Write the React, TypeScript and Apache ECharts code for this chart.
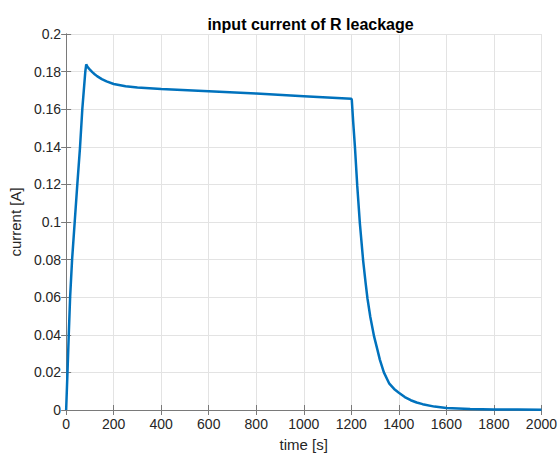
import React, { useEffect, useRef } from "react";
import * as echarts from "echarts";

const titleText = "input current of R leackage";
const xName = "time [s]";
const yName = "current [A]";

const times = [
  0, 5.6, 11, 16.7, 25, 36, 47, 58.5, 68, 80.6, 84.5, 90, 100, 110, 120, 130,
  150, 170, 200, 250, 300, 400, 600, 800, 1000, 1200, 1202, 1208, 1215, 1225,
  1236, 1250, 1260, 1268, 1280, 1296, 1310, 1320, 1337, 1360, 1380, 1400, 1425,
  1450, 1475, 1500, 1550, 1600, 1700, 1800, 1900, 2000,
];
const current = [
  0, 0.02, 0.04, 0.06, 0.08, 0.1, 0.12, 0.14, 0.16, 0.18, 0.1838, 0.1825,
  0.181, 0.1797, 0.1786, 0.1776, 0.176, 0.1748, 0.1734, 0.1722, 0.1716,
  0.1707, 0.1696, 0.1683, 0.1669, 0.1655, 0.165, 0.153, 0.1404, 0.1192,
  0.0993, 0.0792, 0.0678, 0.0593, 0.0495, 0.039, 0.032, 0.0268, 0.02, 0.014,
  0.0112, 0.0092, 0.0069, 0.0052, 0.004, 0.0031, 0.0018, 0.0011, 0.0005,
  0.0003, 0.0002, 0.0001,
];

const FONT = "Liberation Sans, Arial, Helvetica, sans-serif";

export default function App() {
  const ref = useRef<HTMLDivElement>(null);
  useEffect(() => {
    if (!ref.current) return;
    const chart = echarts.init(ref.current, undefined, { renderer: "svg" });
    const axisLineColor = "#7a7a7a";
    const labelColor = "#262626";
    const gridColor = "#e3e3e3";
    chart.setOption({
      animation: false,
      backgroundColor: "#ffffff",
      title: {
        text: titleText,
        left: 305.5,
        textAlign: "center",
        top: 11,
        textStyle: { fontFamily: FONT, fontSize: 16, fontWeight: "bold", color: "#000" },
      },
      grid: { left: 64, right: 17, top: 34, bottom: 45 },
      xAxis: [
        {
          type: "value",
          min: 0,
          max: 2000,
          interval: 200,
          name: xName,
          nameLocation: "middle",
          nameGap: 27,
          nameTextStyle: { fontFamily: FONT, fontSize: 15, color: labelColor },
          axisLine: { show: true, lineStyle: { color: axisLineColor, width: 1 } },
          axisTick: { show: true, inside: true, length: 5, lineStyle: { color: axisLineColor } },
          axisLabel: {
            fontFamily: FONT,
            fontSize: 14,
            color: labelColor,
            margin: 7,
            formatter: (v: number) => String(v),
          },
          splitLine: { show: true, lineStyle: { color: gridColor, width: 1 } },
        },
        {
          type: "value",
          position: "top",
          min: 0,
          max: 2000,
          interval: 200,
          axisLine: { show: true, lineStyle: { color: axisLineColor, width: 1 } },
          axisTick: { show: true, inside: true, length: 5, lineStyle: { color: axisLineColor } },
          axisLabel: { show: false },
          splitLine: { show: false },
        },
      ],
      yAxis: [
        {
          type: "value",
          min: 0,
          max: 0.2,
          interval: 0.02,
          name: yName,
          nameLocation: "middle",
          nameGap: 38,
          nameTextStyle: { fontFamily: FONT, fontSize: 15, color: labelColor },
          axisLine: { show: true, lineStyle: { color: axisLineColor, width: 1 } },
          axisTick: { show: true, inside: true, length: 5, lineStyle: { color: axisLineColor } },
          axisLabel: { fontFamily: FONT, fontSize: 14, color: labelColor, margin: 5 },
          splitLine: { show: true, lineStyle: { color: gridColor, width: 1 } },
        },
        {
          type: "value",
          position: "right",
          min: 0,
          max: 0.2,
          interval: 0.02,
          axisLine: { show: true, lineStyle: { color: axisLineColor, width: 1 } },
          axisTick: { show: true, inside: true, length: 5, lineStyle: { color: axisLineColor } },
          axisLabel: { show: false },
          splitLine: { show: false },
        },
      ],
      series: [
        {
          type: "line",
          xAxisIndex: 0,
          yAxisIndex: 0,
          data: times.map((t, i) => [t, current[i]]),
          showSymbol: false,
          smooth: false,
          lineStyle: { color: "#0072BD", width: 2.5 },
          z: 5,
        },
      ],
    });
    return () => chart.dispose();
  }, []);
  return <div ref={ref} style={{ width: 560, height: 457, position: "absolute", left: 0, top: 0 }} />;
}
